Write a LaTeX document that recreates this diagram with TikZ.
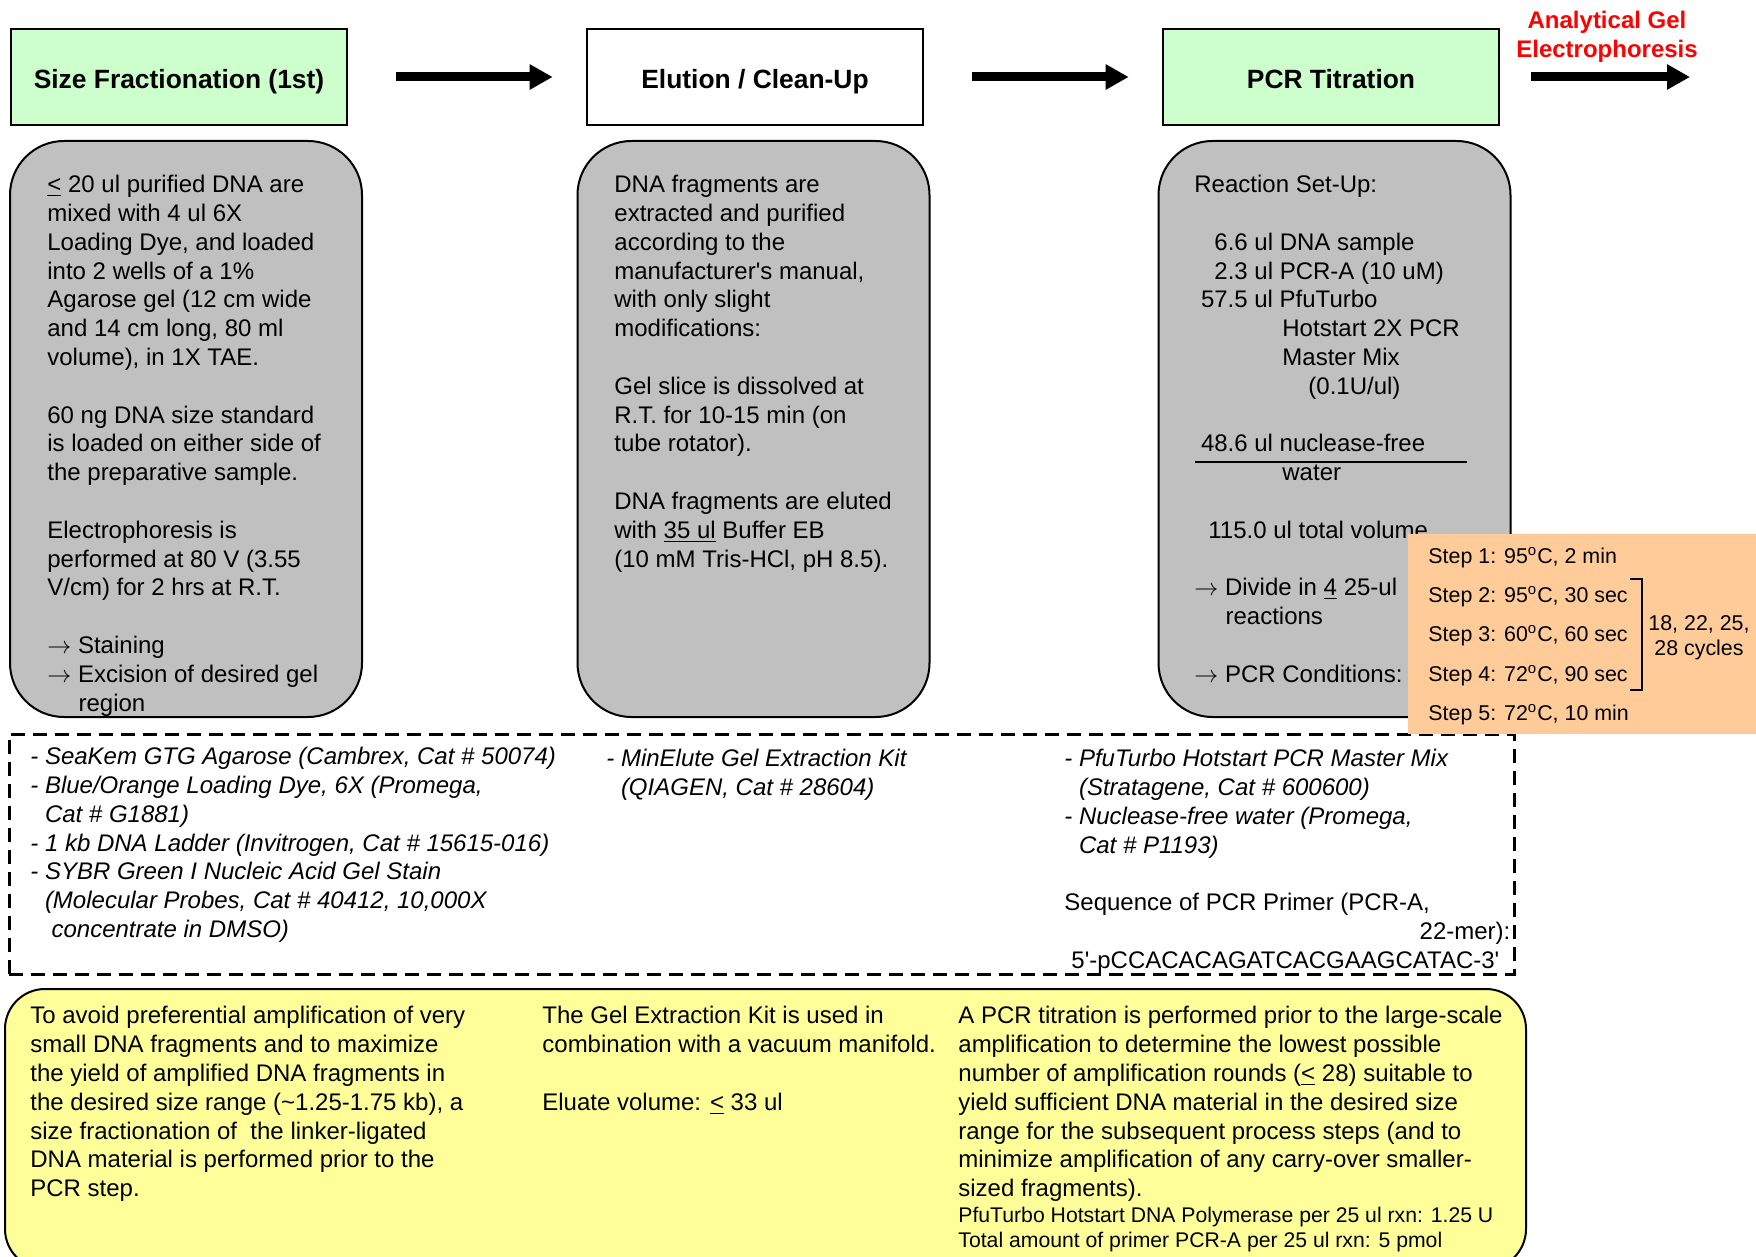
\documentclass[tikz,border=0pt]{standalone}
\usepackage{fontspec}
\setmainfont{Liberation Sans}
\usetikzlibrary{arrows.meta}
\definecolor{headgreen}{HTML}{CCFFCC}
\definecolor{boxgray}{HTML}{C0C0C0}
\definecolor{noteyellow}{HTML}{FFFF99}
\definecolor{steporange}{HTML}{FFCC99}
\begin{document}
\begin{tikzpicture}[x=0.5pt,y=-0.5pt,
    headbox/.style={draw,line width=1.3pt,minimum width=168pt,minimum height=48pt,inner sep=0pt,
      text height=11.2pt,text depth=0pt,font=\fontsize{13.2}{15}\selectfont\bfseries},
    procbox/.style={draw,line width=1pt,fill=boxgray,rounded corners=27pt,
      minimum width=176pt,minimum height=288pt,inner sep=0pt},
    body/.style={anchor=north west,inner sep=0pt,align=left,font=\fontsize{12}{14.4}\selectfont},
    small/.style={anchor=north west,inner sep=0pt,align=left,font=\fontsize{10.7}{12.4}\selectfont},
    flow/.style={line width=4.5pt,-{Triangle[length=11.5pt,width=12pt]}}]
  \useasboundingbox (0,0) rectangle (1756,1257);
  \node[headbox,fill=headgreen] (frac) at (179,77) {Size Fractionation (1st)};
  \node[headbox,fill=white] (elu) at (755,77) {Elution / Clean-Up};
  \node[headbox,fill=headgreen] (pcr) at (1331,77) {PCR Titration};
  \coordinate (gel) at (1690,77);
  \node[inner sep=0pt,anchor=north,align=center,text=red,
    font=\fontsize{12}{14.5}\selectfont\bfseries] (gellabel) at (1607,11) {Analytical Gel\\Electrophoresis};
  \draw[flow] ([xshift=24pt]frac.east) -- ([xshift=-16.5pt]elu.west);
  \draw[flow] ([xshift=24pt]elu.east) -- ([xshift=-16.5pt]pcr.west);
  \draw[flow] ([xshift=15.5pt]pcr.east) -- (gel);

  \node[procbox] (fracbox) at (186,429) {};
  \node[procbox] (elubox) at (753.5,429) {};
  \node[procbox] (pcrbox) at (1334.5,429) {};
  \node[body] (fractxt) at (47,175) {\underline{<} 20 ul purified DNA are\\
    mixed with 4 ul 6X\\
    Loading Dye, and loaded\\
    into 2 wells of a 1\%\\
    Agarose gel (12 cm wide\\
    and 14 cm long, 80 ml\\
    volume), in 1X TAE.\\[14.4pt]
    60 ng DNA size standard\\
    is loaded on either side of\\
    the preparative sample.\\[14.4pt]
    Electrophoresis is\\
    performed at 80 V (3.55\\
    V/cm) for 2 hrs at R.T.\\[14.4pt]
    $\rightarrow$ Staining\\
    $\rightarrow$ Excision of desired gel\\
    \hspace*{15.6pt}region};
  \node[body] (elutxt) at (614,175) {DNA fragments are\\
    extracted and purified\\
    according to the\\
    manufacturer\textquotesingle s manual,\\
    with only slight\\
    modifications:\\[14.4pt]
    Gel slice is dissolved at\\
    R.T. for 10-15 min (on\\
    tube rotator).\\[14.4pt]
    DNA fragments are eluted\\
    with \underline{35 ul} Buffer EB\\
    (10 mM Tris-HCl, pH 8.5).};
  \node[body] (pcrtxt) at (1194,175) {Reaction Set-Up:\\[14.4pt]
    \hspace*{10pt}6.6 ul DNA sample\\
    \hspace*{10pt}2.3 ul PCR-A (10 uM)\\
    \hspace*{3.3pt}57.5 ul PfuTurbo\\
    \hspace*{44pt}Hotstart 2X PCR\\
    \hspace*{44pt}Master Mix\\
    \hspace*{57pt}(0.1U/ul)\\[14.4pt]
    \hspace*{3.3pt}48.6 ul nuclease-free\\
    \hspace*{44pt}water\\[14.4pt]
    \hspace*{7pt}115.0 ul total volume\\[14.4pt]
    $\rightarrow$ Divide in \underline{4} 25-ul\\
    \hspace*{15.6pt}reactions\\[14.4pt]
    $\rightarrow$ PCR Conditions:};
  \draw[line width=1pt] (1195,462) -- (1467,462);

  \node[draw,line width=1.5pt,dash pattern=on 7pt off 4pt,minimum width=752.5pt,
    minimum height=120pt,inner sep=0pt] (mats) at (761.5,854) {};
  \node[body,font=\fontsize{12}{14.4}\selectfont\itshape] (fracmats) at (30,747) {- SeaKem GTG Agarose (Cambrex, Cat \# 50074)\\
    - Blue/Orange Loading Dye, 6X (Promega,\\
    \hspace*{7.3pt}Cat \# G1881)\\
    - 1 kb DNA Ladder (Invitrogen, Cat \# 15615-016)\\
    - SYBR Green I Nucleic Acid Gel Stain\\
    \hspace*{7.3pt}(Molecular Probes, Cat \# 40412, 10,000X\\
    \hspace*{10.6pt}concentrate in DMSO)};
  \node[body,font=\fontsize{12}{14.4}\selectfont\itshape] (elumats) at (606,749) {- MinElute Gel Extraction Kit\\
    \hspace*{7.3pt}(QIAGEN, Cat \# 28604)};
  \node[body] (pcrmats) at (1064,749) {\itshape - PfuTurbo Hotstart PCR Master Mix\\
    \itshape\hspace*{7.3pt}(Stratagene, Cat \# 600600)\\
    \itshape - Nuclease-free water (Promega,\\
    \itshape\hspace*{7.3pt}Cat \# P1193)\\[14.4pt]
    Sequence of PCR Primer (PCR-A,\\
    \makebox[223pt][r]{22-mer):}\\
    \hspace*{3.5pt}5\textquotesingle-pCCACACAGATCACGAAGCATAC-3\textquotesingle};

  \node[fill=steporange,minimum width=181pt,minimum height=100pt,inner sep=0pt] (stepbox) at (1589,634) {};
  \node[small,font=\fontsize{10.7}{19.6}\selectfont] (steps) at (1428,547) {Step 1: 95\textsuperscript{o}C, 2 min\\
    Step 2: 95\textsuperscript{o}C, 30 sec\\
    Step 3: 60\textsuperscript{o}C, 60 sec\\
    Step 4: 72\textsuperscript{o}C, 90 sec\\
    Step 5: 72\textsuperscript{o}C, 10 min};
  \draw[line width=1pt] (1630,579) -- (1642,579) -- (1642,690) -- (1630,690);
  \node[small,anchor=north,align=center] (cycles) at (1699,615) {18, 22, 25,\\28 cycles};

  \node[draw,line width=1pt,fill=noteyellow,rounded corners=20pt,minimum width=760.5pt,
    minimum height=140pt,inner sep=0pt] (notes) at (765.5,1129) {};
  \node[body] (fracnote) at (30,1006) {To avoid preferential amplification of very\\
    small DNA fragments and to maximize\\
    the yield of amplified DNA fragments in\\
    the desired size range (\textasciitilde 1.25-1.75 kb), a\\
    size fractionation of\ \ the linker-ligated\\
    DNA material is performed prior to the\\
    PCR step.};
  \node[body] (elunote) at (542,1006) {The Gel Extraction Kit is used in\\
    combination with a vacuum manifold.\\[14.4pt]
    Eluate volume: \underline{<} 33 ul};
  \node[body] (pcrnote) at (958,1006) {A PCR titration is performed prior to the large-scale\\
    amplification to determine the lowest possible\\
    number of amplification rounds (\underline{<} 28) suitable to\\
    yield sufficient DNA material in the desired size\\
    range for the subsequent process steps (and to\\
    minimize amplification of any carry-over smaller-\\
    sized fragments).};
  \node[small,font=\fontsize{10.6}{12.4}\selectfont] (pcrdose) at (958,1207) {PfuTurbo Hotstart DNA Polymerase per 25 ul rxn: 1.25 U\\
    Total amount of primer PCR-A per 25 ul rxn: 5 pmol};
\end{tikzpicture}
\end{document}
